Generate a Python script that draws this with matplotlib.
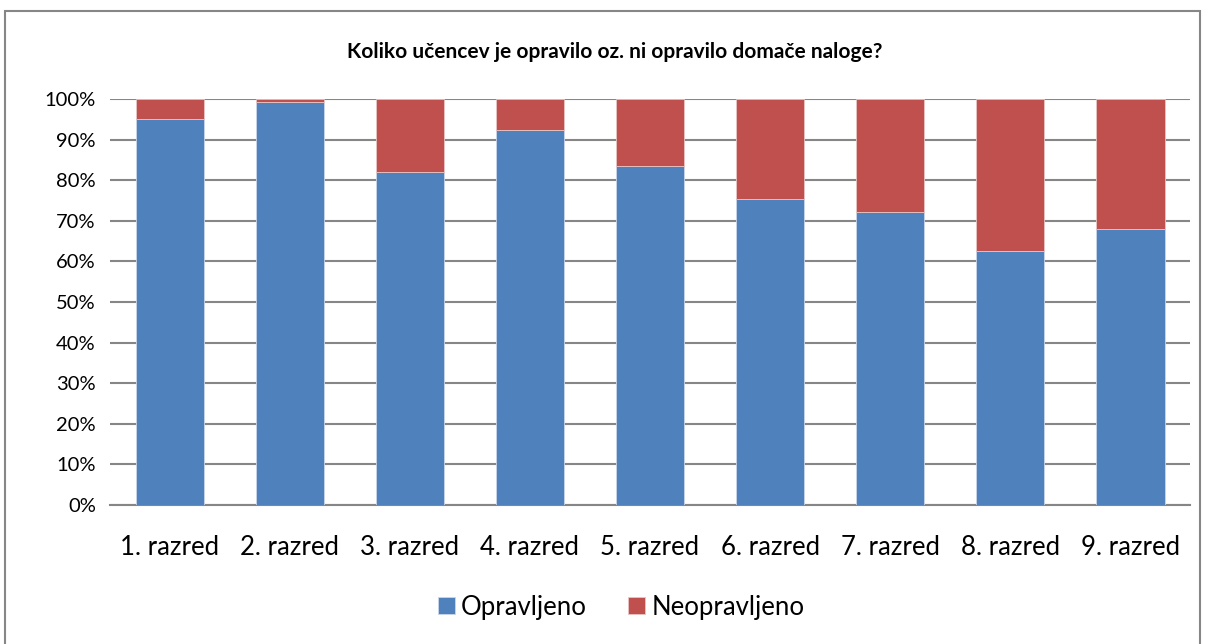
import matplotlib
matplotlib.use("Agg")
import matplotlib.pyplot as plt
from matplotlib.patches import Rectangle
from matplotlib.ticker import FuncFormatter

plt.rcParams['font.family'] = ['Lato', 'DejaVu Sans']

# data
razredi = ["1. razred", "2. razred", "3. razred", "4. razred", "5. razred",
           "6. razred", "7. razred", "8. razred", "9. razred"]
opravljeno = [95.0, 99.2, 82.1, 92.4, 83.5, 75.3, 72.3, 62.6, 68.0]
neopravljeno = [100 - v for v in opravljeno]

modra = "#4F81BD"
rdeca = "#C0504D"

fig = plt.figure(figsize=(12.06, 6.44), dpi=100)
ax = fig.add_axes([0.091, 0.216, 0.896, 0.630])

x = range(len(razredi))
ax.bar(x, opravljeno, width=0.57, color=modra, edgecolor="#c9d6ea", linewidth=0.6,
       label="Opravljeno", zorder=3)
ax.bar(x, neopravljeno, width=0.57, bottom=opravljeno, color=rdeca, edgecolor="#e8c4c3",
       linewidth=0.6, label="Neopravljeno", zorder=3)

ax.set_ylim(0, 100)
ax.set_xlim(-0.5, len(razredi) - 0.5)
ax.set_yticks(range(0, 101, 10))
ax.yaxis.set_major_formatter(FuncFormatter(lambda v, p: "%d%%" % v))
ax.grid(axis="y", color="#868686", linewidth=1.5, zorder=0)
ax.set_xticks(list(x))
ax.set_xticklabels(razredi, fontsize=18.5)
ax.tick_params(axis="y", labelsize=14.5, length=0, pad=10)
ax.tick_params(axis="x", length=0, pad=22)
for s in ["top", "right", "left"]:
    ax.spines[s].set_visible(False)
ax.spines["bottom"].set_color("#868686")
ax.spines["bottom"].set_linewidth(1.5)

fig.text(0.51, 0.919, "Koliko učencev je opravilo oz. ni opravilo domače naloge?",
         ha="center", va="center", fontsize=15, fontweight="bold")

fig.legend(loc="center", bbox_to_anchor=(0.515, 0.057), ncol=2, frameon=False,
           fontsize=18.5, handlelength=0.65, handleheight=0.65, handletextpad=0.25,
           columnspacing=1.6)

fig.patches.append(Rectangle((0.004, -0.01), 0.991, 0.993, transform=fig.transFigure,
                             fill=False, edgecolor="#868686", linewidth=1.5))

fig.savefig("out.png", dpi=100)
